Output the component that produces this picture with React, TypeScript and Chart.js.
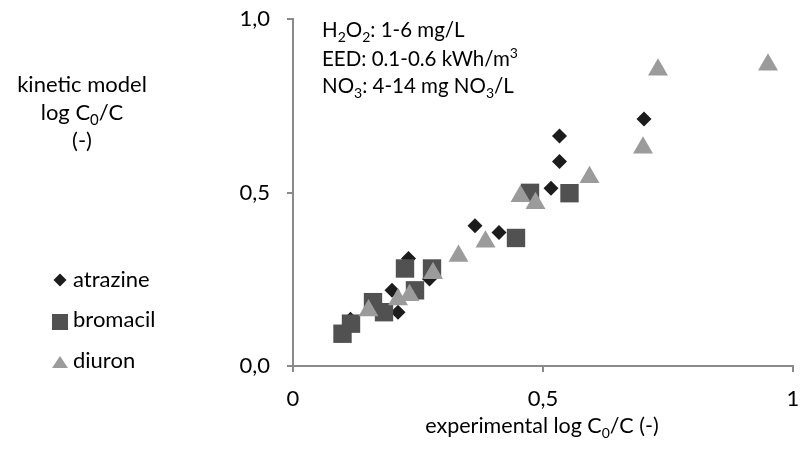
import React, { useEffect, useRef } from "react";
import { Chart, registerables } from "chart.js";

Chart.register(...registerables);

const atrazineX = [0.702, 0.533, 0.533, 0.516, 0.364, 0.412, 0.231, 0.273, 0.198, 0.210, 0.115];
const atrazineY = [0.712, 0.663, 0.589, 0.512, 0.404, 0.385, 0.310, 0.251, 0.218, 0.155, 0.135];

const bromacilX = [0.553, 0.446, 0.474, 0.224, 0.278, 0.244, 0.160, 0.182, 0.116, 0.099];
const bromacilY = [0.498, 0.369, 0.499, 0.281, 0.281, 0.218, 0.184, 0.155, 0.122, 0.093];

const diuronX = [0.950, 0.730, 0.700, 0.593, 0.455, 0.485, 0.385, 0.331, 0.280, 0.233, 0.210, 0.151];
const diuronY = [0.868, 0.854, 0.629, 0.544, 0.489, 0.469, 0.358, 0.317, 0.267, 0.204, 0.192, 0.160];

const xTickLabels: Record<string, string> = { "0": "0", "0.5": "0,5", "1": "1" };
const yTickLabels: Record<string, string> = { "0": "0,0", "0.5": "0,5", "1": "1,0" };

const seriesNames = ["atrazine", "bromacil", "diuron"];
const seriesColors = ["#1c1c1c", "#515151", "#9b9b9b"];

const FONT = "Lato, 'Open Sans', sans-serif";

type Seg = { t: string; s?: "sub" | "sup" };

function drawRich(ctx: CanvasRenderingContext2D, segs: Seg[], x: number, y: number, size: number, align: "left" | "center") {
  const small = Math.round(size * 0.66);
  const widths = segs.map((sg) => {
    ctx.font = `${sg.s ? small : size}px ${FONT}`;
    return ctx.measureText(sg.t).width;
  });
  const total = widths.reduce((a, b) => a + b, 0);
  let cx = align === "center" ? x - total / 2 : x;
  ctx.textAlign = "left";
  ctx.textBaseline = "alphabetic";
  segs.forEach((sg, i) => {
    ctx.font = `${sg.s ? small : size}px ${FONT}`;
    const dy = sg.s === "sub" ? size * 0.22 : sg.s === "sup" ? -size * 0.38 : 0;
    ctx.fillText(sg.t, cx, y + dy);
    cx += widths[i];
  });
}

const textPlugin = {
  id: "texts",
  afterDraw(chart: any) {
    const ctx: CanvasRenderingContext2D = chart.ctx;
    ctx.save();
    ctx.fillStyle = "#000";
    // y title
    drawRich(ctx, [{ t: "kinetic model" }], 82, 92, 22, "center");
    drawRich(ctx, [{ t: "log C" }, { t: "0", s: "sub" }, { t: "/C" }], 82, 120, 22, "center");
    drawRich(ctx, [{ t: "(-)" }], 82, 148, 22, "center");
    // x title
    drawRich(ctx, [{ t: "experimental log C" }, { t: "0", s: "sub" }, { t: "/C (-)" }], 542, 433, 21.5, "center");
    // annotation
    drawRich(ctx, [{ t: "H" }, { t: "2", s: "sub" }, { t: "O" }, { t: "2", s: "sub" }, { t: ": 1-6 mg/L" }], 322, 37, 20.5, "left");
    drawRich(ctx, [{ t: "EED: 0.1-0.6 kWh/m" }, { t: "3", s: "sup" }], 322, 66, 20.5, "left");
    drawRich(ctx, [{ t: "NO" }, { t: "3", s: "sub" }, { t: ": 4-14 mg NO" }, { t: "3", s: "sub" }, { t: "/L" }], 322, 93, 20.5, "left");
    // legend
    const ys = [280, 322, 362];
    const bases = [287, 327, 368];
    seriesNames.forEach((n, i) => {
      ctx.fillStyle = seriesColors[i];
      const cx = 60, cy = ys[i];
      ctx.beginPath();
      if (i === 0) {
        ctx.moveTo(cx - 6.5, cy); ctx.lineTo(cx, cy - 6.5); ctx.lineTo(cx + 6.5, cy); ctx.lineTo(cx, cy + 6.5);
      } else if (i === 1) {
        ctx.rect(cx - 8, cy - 8, 16, 16);
      } else {
        ctx.moveTo(cx, cy - 6); ctx.lineTo(cx + 8, cy + 6); ctx.lineTo(cx - 8, cy + 6);
      }
      ctx.closePath();
      ctx.fill();
      ctx.fillStyle = "#000";
      drawRich(ctx, [{ t: n }], 73, bases[i], 22, "left");
    });
    ctx.restore();
  },
};

export default function App() {
  const ref = useRef<HTMLCanvasElement>(null);
  useEffect(() => {
    if (!ref.current) return;
    const mk = (xs: number[], ys: number[]) => xs.map((x, i) => ({ x, y: ys[i] }));
    const axisColor = "#8a8a8a";
    const chart = new Chart(ref.current, {
      type: "scatter",
      data: {
        datasets: [
          {
            label: seriesNames[2],
            data: mk(diuronX, diuronY),
            pointStyle: "triangle",
            pointRadius: 11.5,
            backgroundColor: seriesColors[2],
            borderWidth: 0,
            order: 0,
          },
          {
            label: seriesNames[1],
            data: mk(bromacilX, bromacilY),
            pointStyle: "rect",
            pointRadius: 13,
            backgroundColor: seriesColors[1],
            borderWidth: 0,
            order: 1,
          },
          {
            label: seriesNames[0],
            data: mk(atrazineX, atrazineY),
            pointStyle: "rectRot",
            pointRadius: 7.5,
            backgroundColor: seriesColors[0],
            borderWidth: 0,
            order: 2,
          },
        ],
      },
      options: {
        animation: false,
        responsive: true,
        maintainAspectRatio: false,
        layout: { padding: { top: 19, right: 19, left: 0, bottom: 0 } },
        plugins: { legend: { display: false }, tooltip: { enabled: false } },
        scales: {
          x: {
            type: "linear",
            min: 0,
            max: 1,
            ticks: {
              stepSize: 0.5,
              color: "#000",
              font: { family: FONT, size: 22 },
              padding: 14,
              maxRotation: 0,
              callback: (v: any) => xTickLabels[String(v)] ?? "",
            },
            grid: { drawOnChartArea: false, drawTicks: true, tickLength: 6, color: axisColor, lineWidth: 2 },
            border: { color: axisColor, width: 2 },
            afterFit: (s: any) => { s.height = 83; s.paddingLeft = 0; s.paddingRight = 0; },
          },
          y: {
            type: "linear",
            min: 0,
            max: 1,
            ticks: {
              stepSize: 0.5,
              color: "#000",
              font: { family: FONT, size: 22 },
              padding: 17,
              callback: (v: any) => yTickLabels[String(v)] ?? "",
            },
            grid: { drawOnChartArea: false, drawTicks: true, tickLength: 6, color: axisColor, lineWidth: 2 },
            border: { color: axisColor, width: 2 },
            afterFit: (s: any) => { s.width = 293; s.paddingTop = 0; s.paddingBottom = 0; },
          },
        },
      },
      plugins: [textPlugin],
    });
    return () => chart.destroy();
  }, []);
  return (
    <div style={{ position: "fixed", left: 0, top: 0, width: 812, height: 449, background: "#fff" }}>
      <canvas ref={ref} />
    </div>
  );
}
